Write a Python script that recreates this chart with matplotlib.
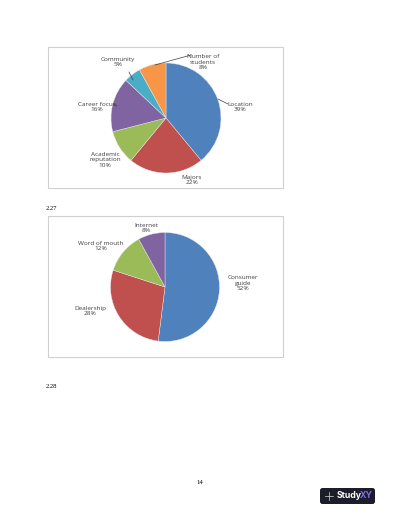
import matplotlib.pyplot as plt
from matplotlib.patches import Rectangle, FancyBboxPatch

# Data for the two pie charts
reasons = ['Location', 'Majors', 'Academic\nreputation', 'Career focus', 'Community', 'Number of\nstudents']
reason_pct = [39, 22, 10, 16, 5, 8]

sources = ['Consumer\nguide', 'Dealership', 'Word of mouth', 'Internet']
source_pct = [52, 28, 12, 8]

colors = ['#4F81BD', '#C0504D', '#9BBB59', '#8064A2', '#4BACC6', '#F79646']

H = 518
fig = plt.figure(figsize=(4.0, 5.18), dpi=100)
ax = fig.add_axes([0, 0, 1, 1])

label_font = ['Open Sans', 'DejaVu Sans']


def draw_pie(values, names, center, radius, label_pos, leaders):
    cx, cy = center
    ax.pie(values, colors=colors[:len(values)], startangle=90, counterclock=False,
           center=(cx, H - cy), radius=radius, frame=True,
           wedgeprops=dict(linewidth=0.3, edgecolor='#E8E8E8'))
    for name, val, (lx, ly) in zip(names, values, label_pos):
        ax.text(lx, H - ly, f'{name}\n{val}%', ha='center', va='center',
                fontsize=4.6, color='#404040', family=label_font, linespacing=1.15)
    for (x0, y0), (x1, y1) in leaders:
        ax.plot([x0, x1], [H - y0, H - y1], color='#404040', lw=0.5)


# chart frames
for (x, y, w, h) in [(48, 47, 235, 141), (48, 216, 235, 141)]:
    ax.add_patch(Rectangle((x, H - y - h), w, h, fill=False, edgecolor='#D0D0D0', lw=0.8))

draw_pie(reason_pct, reasons, (166, 118), 55,
         [(240, 107), (192, 180), (105, 160), (97, 107), (118, 62), (203, 62)],
         [((218, 99), (228, 104)), ((114, 104), (117, 106)),
          ((129, 72), (133, 80)), ((155, 65), (191, 55))])

draw_pie(source_pct, sources, (165, 287), 54.5,
         [(243, 283), (90, 311), (101, 246), (146, 228)], [])

serif = ['Liberation Serif', 'DejaVu Serif']
ax.text(46, H - 209, '2.27', fontsize=4.8, family=serif, va='center')
ax.text(46, H - 387, '2.28', fontsize=4.8, family=serif, va='center')
ax.text(200, H - 483, '14', fontsize=4.8, family=serif, va='center', ha='center')

# logo badge
ax.add_patch(FancyBboxPatch((320, H - 504), 55, 16, boxstyle='round,pad=0,rounding_size=2.5',
                            facecolor='#1C1C2A', edgecolor='none'))
ax.plot([324.5, 332.5], [H - 496, H - 496], color='#D8D8E0', lw=0.5)
ax.plot([328.5, 328.5], [H - 500, H - 492], color='#D8D8E0', lw=0.5)
ax.text(336.5, H - 496, 'Study', fontsize=6.3, color='white', weight='bold',
        family=['Inter', 'DejaVu Sans'], va='center')
ax.text(360, H - 496, 'XY', fontsize=6.3, color='#7B6CF6', weight='bold',
        family=['Inter', 'DejaVu Sans'], va='center')

ax.set_xlim(0, 400)
ax.set_ylim(0, H)
ax.set_aspect('auto')
ax.axis('off')

plt.savefig('out.png', dpi=100)
